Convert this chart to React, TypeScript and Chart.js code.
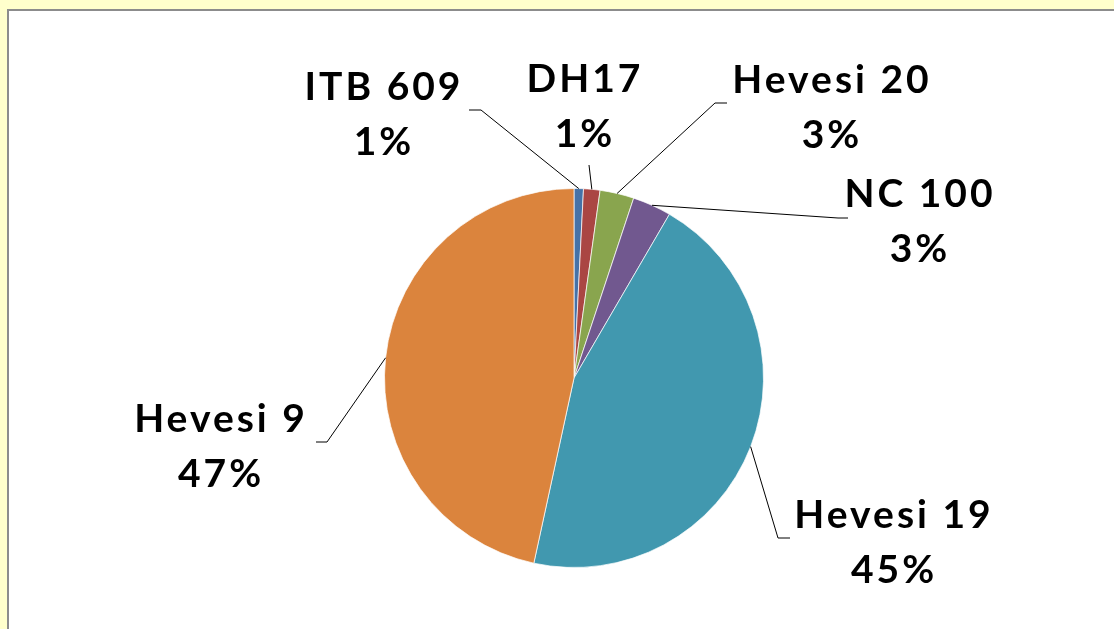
import React, { useEffect, useRef } from "react";
import { Chart, registerables } from "chart.js";

Chart.register(...registerables);

const categories = ["ITB 609", "DH17", "Hevesi 20", "NC 100", "Hevesi 19", "Hevesi 9"];
const values = [0.8, 1.4, 2.9, 3.3, 45.0, 46.6];
const colors = ["#4572A7", "#AA4643", "#89A54E", "#71588F", "#4198AF", "#DB843D"];

// label layout, relative to pie centre: text centre x, first baseline y, leader elbow, leader end
const labelLayout = [
  { tx: -190, ty: -278, ex: -93, ey: -268, hx: -105, hy: -268 },
  { tx: 11, ty: -286, ex: 15, ey: -213, hx: 15, hy: -213 },
  { tx: 258, ty: -285, ex: 141, ey: -275, hx: 153, hy: -275 },
  { tx: 346, ty: -171, ex: 264, ey: -160, hx: 274, hy: -160 },
  { tx: 320, ty: 150, ex: 204, ey: 160, hx: 216, hy: 160 },
  { tx: -353, ty: 54, ex: -247, ey: 64, hx: -258, hy: 64 },
];

const labelPlugin = {
  id: "pieLabels",
  afterDatasetsDraw(chart: any) {
    const ctx = chart.ctx as CanvasRenderingContext2D;
    const meta = chart.getDatasetMeta(0);
    const data = chart.data.datasets[0].data as number[];
    const total = data.reduce((a, b) => a + b, 0);
    ctx.save();
    meta.data.forEach((arc: any, i: number) => {
      const { x, y, startAngle, endAngle, outerRadius } = arc.getProps(
        ["x", "y", "startAngle", "endAngle", "outerRadius"],
        true
      );
      const mid = (startAngle + endAngle) / 2;
      const ax = x + Math.cos(mid) * outerRadius;
      const ay = y + Math.sin(mid) * outerRadius;
      const L = labelLayout[i];
      ctx.strokeStyle = "#000";
      ctx.lineWidth = 1;
      ctx.beginPath();
      ctx.moveTo(ax, ay);
      ctx.lineTo(x + L.ex, y + L.ey);
      ctx.lineTo(x + L.hx, y + L.hy);
      ctx.stroke();

      ctx.fillStyle = "#000";
      ctx.font = "bold 39px Lato";
      (ctx as any).letterSpacing = "3px";
      ctx.textAlign = "center";
      ctx.textBaseline = "alphabetic";
      const pct = Math.round((data[i] / total) * 100) + "%";
      ctx.fillText(chart.data.labels[i], x + L.tx, y + L.ty);
      ctx.fillText(pct, x + L.tx, y + L.ty + 55);
    });
    ctx.restore();
  },
};

export default function App() {
  const ref = useRef<HTMLCanvasElement>(null);
  useEffect(() => {
    if (!ref.current) return;
    const chart = new Chart(ref.current, {
      type: "pie",
      data: {
        labels: categories,
        datasets: [
          {
            data: values,
            backgroundColor: colors,
            borderColor: "rgba(255,255,255,0.7)",
            borderWidth: 1,
          },
        ],
      },
      options: {
        animation: false,
        responsive: false,
        maintainAspectRatio: false,
        layout: { padding: { left: 384, right: 350, top: 188, bottom: 61 } },
        plugins: { legend: { display: false }, tooltip: { enabled: false } },
      },
      plugins: [labelPlugin],
    });
    return () => chart.destroy();
  }, []);
  return (
    <div
      style={{
        position: "fixed",
        left: 0,
        top: 0,
        width: 1114,
        height: 629,
        background: "#FFFFCC",
        overflow: "hidden",
      }}
    >
      <div
        style={{
          position: "absolute",
          left: 7,
          top: 9,
          width: 1200,
          height: 700,
          background: "#FFFFFF",
          borderLeft: "2px solid #8C8C8C",
          borderTop: "2px solid #8C8C8C",
        }}
      />
      <canvas
        ref={ref}
        width={1114}
        height={629}
        style={{ position: "absolute", left: 0, top: 0, width: 1114, height: 629 }}
      />
    </div>
  );
}
